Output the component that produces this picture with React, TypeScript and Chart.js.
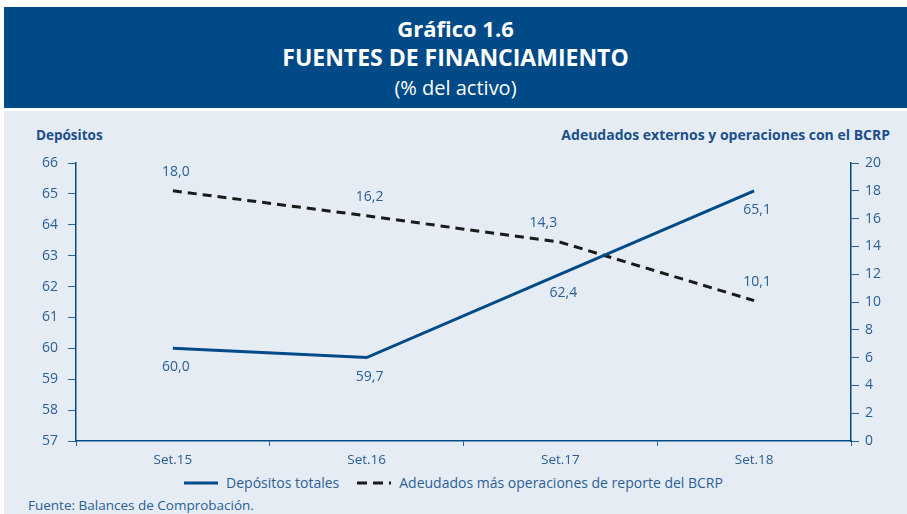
import React, { useEffect, useRef } from "react";
import { Chart, registerables } from "chart.js";

Chart.register(...registerables);

const categories = ["Set.15", "Set.16", "Set.17", "Set.18"];
const depositos = [60.0, 59.7, 62.4, 65.1];
const adeudados = [18.0, 16.2, 14.3, 10.1];

const BLUE = "#004a87";
const TEXT_BLUE = "#2b5f97";
const FONT = "'Open Sans', 'Noto Sans', sans-serif";

const fmt = (v: number) => v.toFixed(1).replace(".", ",");

const labelPlugin = {
  id: "pointLabels",
  afterDatasetsDraw(chart: any) {
    const ctx = chart.ctx;
    ctx.save();
    ctx.font = `14px ${FONT}`;
    ctx.fillStyle = TEXT_BLUE;
    ctx.textAlign = "center";
    ctx.textBaseline = "middle";
    chart.data.datasets.forEach((ds: any, di: number) => {
      const meta = chart.getDatasetMeta(di);
      meta.data.forEach((pt: any, i: number) => {
        const v = ds.data[i];
        const dy = ds.labelAbove ? -19 : 19;
        const dx = ds.labelShift && ds.labelShift[i] ? ds.labelShift[i] : 0;
        ctx.fillText(fmt(v), pt.x + 3 + dx, pt.y + dy);
      });
    });
    ctx.restore();
  },
};

export default function App() {
  const ref = useRef<HTMLCanvasElement>(null);
  useEffect(() => {
    document.body.style.margin = "0";
    const chart = new Chart(ref.current!, {
      type: "line",
      data: {
        labels: categories,
        datasets: [
          {
            label: "Depósitos totales",
            data: depositos,
            yAxisID: "y",
            borderColor: BLUE,
            borderWidth: 3,
            pointRadius: 0,
            tension: 0,
            labelAbove: false,
          } as any,
          {
            label: "Adeudados más operaciones de reporte del BCRP",
            data: adeudados,
            yAxisID: "y1",
            borderColor: "#1a1a1a",
            borderWidth: 3,
            borderDash: [9, 6],
            pointRadius: 0,
            tension: 0,
            labelAbove: true,
            labelShift: [0, 0, -20, 0],
          } as any,
        ],
      },
      options: {
        animation: false,
        responsive: false,
        maintainAspectRatio: false,
        layout: { padding: { top: 52, left: 0, right: 0, bottom: 0 } },
        plugins: { legend: { display: false }, tooltip: { enabled: false } },
        scales: {
          x: {
            offset: true,
            grid: {
              offset: true,
              drawOnChartArea: false,
              tickLength: 5,
              color: TEXT_BLUE,
              lineWidth: 1,
            },
            border: { color: BLUE, width: 1.5 },
            ticks: { color: TEXT_BLUE, font: { size: 13.5, family: FONT }, padding: 6 },
            afterFit: (s: any) => {
              s.height = 30;
            },
          },
          y: {
            position: "left",
            min: 57,
            max: 66,
            ticks: { stepSize: 1, color: TEXT_BLUE, font: { size: 14, family: FONT }, padding: 10 },
            grid: { drawOnChartArea: false, tickLength: 8, color: TEXT_BLUE },
            border: { color: BLUE, width: 1.5 },
            afterFit: (s: any) => {
              s.width = 76;
            },
          },
          y1: {
            position: "right",
            min: 0,
            max: 20,
            ticks: { stepSize: 2, color: TEXT_BLUE, font: { size: 14, family: FONT }, padding: 6 },
            grid: { drawOnChartArea: false, tickLength: 8, color: TEXT_BLUE },
            border: { color: BLUE, width: 1.5 },
            afterFit: (s: any) => {
              s.width = 56;
            },
          },
        },
      } as any,
      plugins: [labelPlugin],
    });
    return () => chart.destroy();
  }, []);

  return (
    <div style={{ position: "fixed", left: 0, top: 0, width: 907, height: 514, background: "#fff", fontFamily: FONT, overflow: "hidden" }}>
      <div
        style={{
          position: "absolute",
          left: 4,
          top: 7,
          width: 903,
          height: 101,
          background: BLUE,
          color: "#fff",
          textAlign: "center",
        }}
      >
        <div style={{ position: "absolute", top: 7, width: "100%", fontSize: 22, fontWeight: 700, lineHeight: "28px" }}>Gráfico 1.6</div>
        <div style={{ position: "absolute", top: 35, width: "100%", fontSize: 23, fontWeight: 700, lineHeight: "30px" }}>FUENTES DE FINANCIAMIENTO</div>
        <div style={{ position: "absolute", top: 67, width: "100%", fontSize: 20, fontWeight: 400, lineHeight: "28px" }}>(% del activo)</div>
      </div>
      <div style={{ position: "absolute", left: 4, top: 111, width: 903, height: 403, background: "#e5ecf3" }} />
      <div style={{ position: "absolute", left: 36, top: 126, fontSize: 13.5, fontWeight: 700, color: "#1d4f8a", lineHeight: "18px" }}>Depósitos</div>
      <div style={{ position: "absolute", right: 17, top: 126, fontSize: 14, fontWeight: 700, color: "#1d4f8a", lineHeight: "18px" }}>
        Adeudados externos y operaciones con el BCRP
      </div>
      <canvas ref={ref} width={907} height={360} style={{ position: "absolute", left: 0, top: 111, width: 907, height: 360 }} />
      <div
        style={{
          position: "absolute",
          left: 0,
          top: 473,
          width: 907,
          display: "flex",
          justifyContent: "center",
          alignItems: "center",
          fontSize: 14,
          color: TEXT_BLUE,
          lineHeight: "20px",
        }}
      >
        <svg width={34} height={6} style={{ marginRight: 8 }}>
          <line x1={0} y1={3} x2={34} y2={3} stroke={BLUE} strokeWidth={3} />
        </svg>
        <span style={{ marginRight: 18 }}>Depósitos totales</span>
        <svg width={34} height={6} style={{ marginRight: 8 }}>
          <line x1={0} y1={3} x2={34} y2={3} stroke="#1a1a1a" strokeWidth={3} strokeDasharray="10 6" />
        </svg>
        <span>Adeudados más operaciones de reporte del BCRP</span>
      </div>
      <div style={{ position: "absolute", left: 28, top: 496, fontSize: 13.5, color: TEXT_BLUE, lineHeight: "18px" }}>
        Fuente: Balances de Comprobación.
      </div>
    </div>
  );
}
